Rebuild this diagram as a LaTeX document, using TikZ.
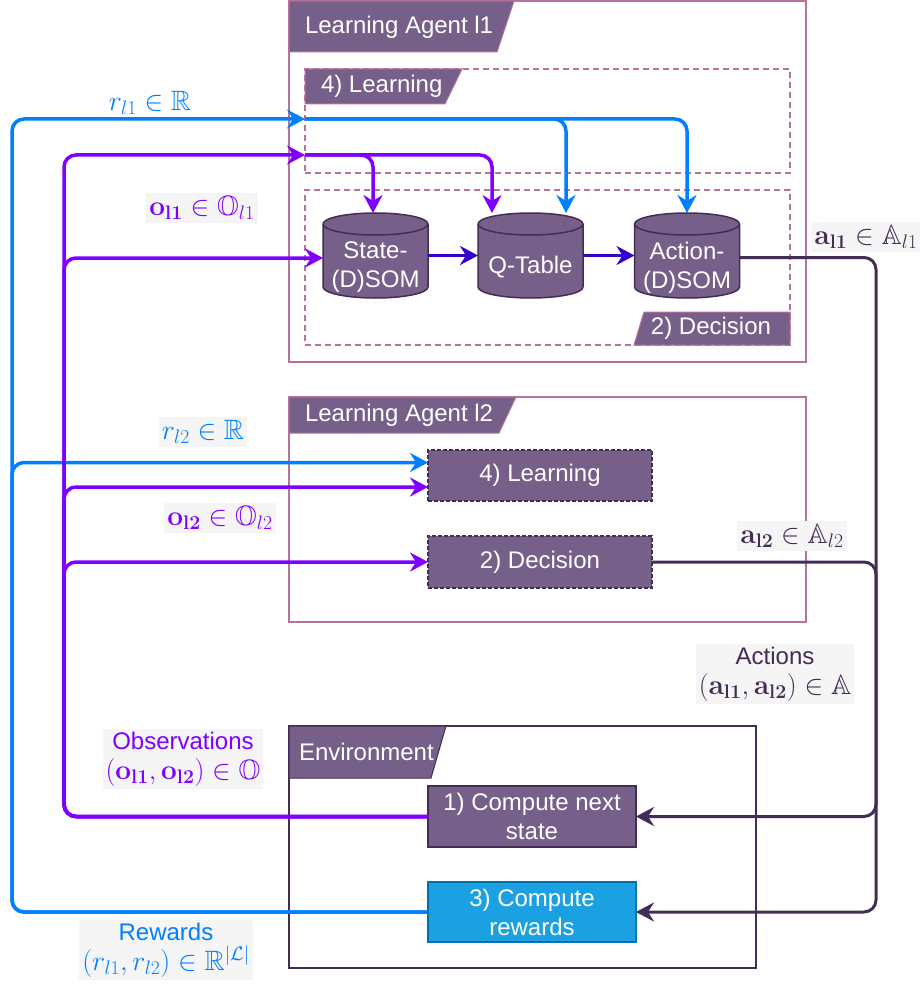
\RequirePackage{fix-cm}
\documentclass[tikz,border=0pt]{standalone}
\usepackage[no-math]{fontspec}
\setmainfont{Liberation Sans}
\usepackage{amssymb}
\usetikzlibrary{arrows.meta}
\definecolor{tabfill}{HTML}{76608A}
\definecolor{darkp}{HTML}{432D57}
\definecolor{pinkb}{HTML}{B5739D}
\definecolor{blueL}{HTML}{007FFF}
\definecolor{purp}{HTML}{7F00FF}
\definecolor{indig}{HTML}{3300CC}
\definecolor{lblbg}{HTML}{F5F5F5}
\definecolor{rewfill}{HTML}{1BA1E2}
\definecolor{rewline}{HTML}{006EAF}
\newcommand{\mf}{\fontsize{28}{31}\selectfont}
\newcommand{\tf}{\fontsize{24}{29}\selectfont}
\begin{document}
\begin{tikzpicture}[x=1pt,y=-1pt,
  every node/.style={inner sep=0pt, outer sep=0pt},
  frame/.style={draw=pinkb, line width=1.5pt},
  envframe/.style={draw=darkp, line width=1.5pt},
  dbox/.style={draw=pinkb, line width=1.5pt, dash pattern=on 6pt off 4pt},
  tabshape/.style={fill=tabfill, draw=pinkb, line width=1pt},
  tabtext/.style={text=white, font=\tf, anchor=west},
  proc/.style={draw=darkp, fill=tabfill, line width=1.5pt, text=white, font=\tf, align=center},
  dproc/.style={proc, dash pattern=on 4pt off 2pt},
  cylgeo/.style={minimum width=105pt, minimum height=85pt},
  cyltext/.style={text=white, font=\tf, align=center},
  tip/.style={-{Stealth[length=18pt,width=19pt,inset=6pt]}},
  bl/.style={draw=blueL, line width=3.5pt, rounded corners=12pt, tip},
  pu/.style={draw=purp, line width=3.5pt, rounded corners=12pt, tip},
  dk/.style={draw=darkp, line width=3pt, rounded corners=12pt, tip},
  ind/.style={draw=indig, line width=3pt, tip},
  lbl/.style={fill=lblbg, inner sep=3pt, align=center},
]
\useasboundingbox (0,0) rectangle (919,984);
\fill[white] (0,0) rectangle (919,984);

% ---------- Learning Agent l1 ----------
\node[frame, minimum width=517pt, minimum height=361pt] (ag1) at (547.5,181.5) {};
\draw[tabshape] (289,1) -- (514,1) -- (497,52) -- (289,52) -- cycle;
\node[tabtext] (ag1t) at (305,27) {Learning Agent l1};

\node[dbox, minimum width=485pt, minimum height=104pt] (learn1) at (547.5,121) {};
\draw[tabshape] (305,69) -- (462,69) -- (445,104) -- (305,104) -- cycle;
\node[tabtext] (learn1t) at (321,86) {4) Learning};

\node[dbox, minimum width=485pt, minimum height=155pt] (dec1) at (547.5,267.5) {};
\draw[tabshape] (644,312) -- (790,312) -- (790,345) -- (634,345) -- cycle;
\node[text=white, font=\tf] (dec1t) at (711,328) {2) Decision};

% cylinders
\foreach \n/\cx in {st/375.5, qt/530.5, act/687}{
  \node[cylgeo] (\n) at (\cx,255.5) {};
  \path[fill=tabfill, draw=darkp, line width=1.5pt]
    ([yshift=-11pt]\n.north west) -- ([yshift=11pt]\n.south west)
    arc[start angle=180, end angle=360, x radius=52.5pt, y radius=11pt]
    -- ([yshift=-11pt]\n.north east)
    arc[start angle=0, end angle=180, x radius=52.5pt, y radius=11pt] -- cycle;
  \draw[darkp, line width=1.5pt] ([yshift=-11pt]\n.north west)
    arc[start angle=180, end angle=360, x radius=52.5pt, y radius=11pt];
}
\node[cyltext] (stt) at ([yshift=-12pt]st.center) {State-\\(D)SOM};
\node[cyltext] (qtt) at ([yshift=-12pt]qt.center) {Q-Table};
\node[cyltext] (actt) at ([yshift=-12pt]act.center) {Action-\\(D)SOM};

% ---------- Learning Agent l2 ----------
\node[frame, minimum width=517pt, minimum height=225pt] (ag2) at (547.5,509.5) {};
\draw[tabshape] (289,397) -- (516,397) -- (499,433) -- (289,433) -- cycle;
\node[tabtext] (ag2t) at (305,415) {Learning Agent l2};
\node[dproc, minimum width=224pt, minimum height=51pt] (learn2) at (540,475.5) {4) Learning};
\node[dproc, minimum width=224pt, minimum height=52pt] (dec2) at (540,562) {2) Decision};

% ---------- Environment ----------
\node[envframe, minimum width=467pt, minimum height=242pt] (env) at (522.5,847) {};
\draw[fill=tabfill, draw=darkp, line width=1pt] (289,726) -- (446,726) -- (431,778) -- (289,778) -- cycle;
\node[tabtext] (envt) at (299,752) {Environment};
\node[proc, minimum width=208pt, minimum height=61pt] (next) at (532,816.5) {1) Compute next\\state};
\node[proc, draw=rewline, fill=rewfill, minimum width=208pt, minimum height=60pt] (rew) at (532,912) {3) Compute\\rewards};

% ---------- connectors ----------
\coordinate (lbB) at (305,119);
\coordinate (lbP) at (305,155);

% rewards (blue)
\draw[bl] (rew.west) -- (12,912) -- (12,119) -- (lbB);
\draw[bl] (rew.west) -- (12,912) |- ([yshift=13pt]learn2.west);
\draw[bl] (lbB) -| ([xshift=35.5pt]qt.north);
\draw[bl] (lbB) -| (act.north);

% observations (purple)
\draw[pu] (next.west) -- (64,816.5) |- (lbP);
\draw[pu] (next.west) -- (64,816.5) |- ([yshift=-2.5pt]st.west);
\draw[pu] (next.west) -- (64,816.5) |- ([yshift=-11.5pt]learn2.west);
\draw[pu] (next.west) -- (64,816.5) |- (dec2.west);
\draw[pu] (lbP) -| ([xshift=-2.5pt]st.north);
\draw[pu] (lbP) -| ([xshift=-38.5pt]qt.north);

% internal
\draw[ind] (st.east) -- (qt.west);
\draw[ind] (qt.east) -- (act.west);

% actions (dark)
\draw[dk] ([yshift=-2pt]act.east) -| (876,816.5) -- (next.east);
\draw[dk] (dec2.east) -| (876,912) -- (rew.east);

% ---------- labels ----------
\node[text=blueL, font=\mf] (lr1) at (150,103) {$r_{l1}\in\mathbb{R}$};
\node[lbl, text=purp, font=\mf] (lo1) at (202,208) {$\mathbf{o_{l1}}\in\mathbb{O}_{l1}$};
\node[lbl, text=darkp, font=\mf] (la1) at (866,237) {$\mathbf{a_{l1}}\in\mathbb{A}_{l1}$};
\node[lbl, text=blueL, font=\mf] (lr2) at (203,432) {$r_{l2}\in\mathbb{R}$};
\node[lbl, text=purp, font=\mf] (lo2) at (220,518) {$\mathbf{o_{l2}}\in\mathbb{O}_{l2}$};
\node[lbl, text=darkp, font=\mf] (la2) at (792,536) {$\mathbf{a_{l2}}\in\mathbb{A}_{l2}$};
\node[lbl, text=darkp, font=\tf] (lact) at (775,674) {Actions\\[1pt]{\mf $(\mathbf{a_{l1}},\mathbf{a_{l2}})\in\mathbb{A}$}};
\node[lbl, text=purp, font=\tf] (lobs) at (183,759) {Observations\\[1pt]{\mf $(\mathbf{o_{l1}},\mathbf{o_{l2}})\in\mathbb{O}$}};
\node[lbl, text=blueL, font=\tf] (lrew) at (166,950) {Rewards\\[1pt]{\mf $(r_{l1},r_{l2})\in\mathbb{R}^{|\mathcal{L}|}$}};
\end{tikzpicture}
\end{document}
